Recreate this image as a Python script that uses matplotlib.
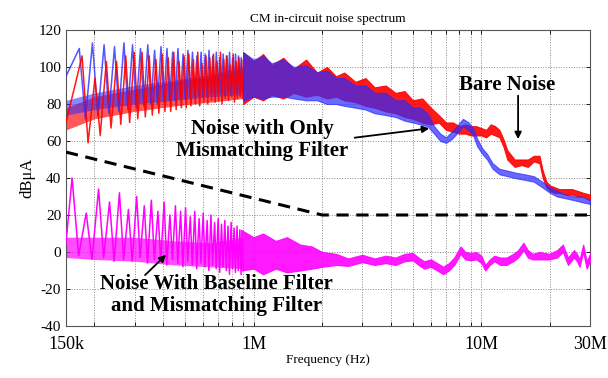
import numpy as np
import matplotlib
matplotlib.use("Agg")
import matplotlib.pyplot as plt
from matplotlib.ticker import FixedLocator, NullFormatter

# ---------------- data ----------------
harm_base = 24.5e3
harm_n = np.arange(7, 37)

# harmonic region (peaks / troughs), 150 kHz .. ~0.9 MHz
red_start = 70
red_pk = [106, 94, 103, 103, 106, 108, 108, 106, 104, 107, 105, 108, 103, 106, 107,
          104, 108, 102, 106, 105, 107, 103, 108, 104, 106, 101, 107, 103, 105, 104]
red_tr = [59, 63, 67, 69, 70, 72, 73, 74, 75, 76, 76, 77, 78, 78, 79,
          80, 79, 81, 80, 82, 81, 82, 80, 83, 82, 84, 81, 83, 84, 83]

blue_start = 95
blue_pk = [110, 113, 112, 111, 113, 112, 110, 112, 109, 111, 110, 108, 110, 107, 109,
           108, 106, 108, 107, 109, 106, 108, 105, 107, 106, 108, 105, 107, 106, 105]
blue_tr = [72, 74, 75, 76, 77, 78, 79, 80, 80, 81, 82, 82, 83, 83, 84,
           84, 85, 84, 85, 86, 85, 86, 86, 85, 87, 86, 87, 86, 87, 87]

mag_start = 5
mag_pk = [40, 21, 34, 27, 32, 23, 30, 25, 28, 22, 27, 20, 25, 22, 24,
          19, 22, 18, 21, 17, 20, 16, 18, 15, 17, 14, 16, 13, 14, 12]
mag_tr = [-2, -4, -3, -5, -4, -5, -3, -6, -4, -5, -7, -4, -6, -8, -5,
          -7, -9, -6, -8, -10, -7, -9, -11, -8, -10, -12, -9, -11, -10, -12]

# dense body under the harmonic spikes
body_f = [150e3, 200e3, 300e3, 450e3, 650e3, 900e3]
red_body_hi = [78, 84, 88, 92, 95, 98]
red_body_lo = [66, 72, 76, 79, 81, 83]
blue_body_hi = [82, 86, 90, 93, 96, 100]
blue_body_lo = [74, 77, 80, 82, 84, 85]
mag_body_hi = [8, 8, 8, 6, 5, 8]
mag_body_lo = [-3, -4, -5, -7, -8, -9]

# broadband region (upper / lower envelope), ~0.9 MHz .. 30 MHz  (MHz)
red_f = [0.9, 1.0, 1.1, 1.2, 1.35, 1.5, 1.7, 1.9, 2.1, 2.3, 2.5, 2.8, 3.1, 3.4, 3.8,
         4.2, 4.6, 5.0, 5.5, 6.0, 6.5, 7.0, 7.5, 8.0, 8.5, 9.0, 9.5, 10, 10.5, 11,
         11.5, 12, 12.5, 13, 14, 15, 16, 17, 18, 18.6, 19.3, 20, 21, 22, 23.5, 25,
         26.5, 28, 30]
red_hi = [108, 103, 107, 101, 105, 99, 104, 97, 100, 95, 97, 92, 94, 89, 90,
          86, 87, 82, 83, 78, 74, 70, 70, 68, 69, 68, 68, 67, 66, 69,
          68, 66, 61, 55, 50, 50, 50, 52, 52, 44, 38, 36, 35, 34, 34, 34,
          33, 32, 31]
red_lo = [80, 84, 82, 85, 83, 86, 84, 85, 83, 84, 82, 81, 79, 78, 76,
          75, 73, 72, 70, 69, 70, 66, 65, 64, 64, 63, 63, 63, 62, 64,
          63, 62, 57, 50, 46, 47, 46, 49, 48, 40, 35, 33, 32, 32, 31, 31,
          30, 30, 28]

blue_f = [0.9, 1.0, 1.1, 1.2, 1.35, 1.5, 1.7, 1.9, 2.1, 2.3, 2.5, 2.8, 3.1, 3.4, 3.8,
          4.2, 4.6, 5.0, 5.4, 5.8, 6.2, 6.6, 7.0, 7.4, 7.8, 8.3, 8.8, 9.2, 9.6, 10.1,
          10.6, 11.2, 12, 13, 14, 15.5, 17, 18.5, 20, 21.5, 23.5, 25.5, 27.5, 30]
blue_hi = [108, 104, 106, 102, 104, 100, 101, 97, 98, 94, 94, 90, 90, 86, 86,
           82, 82, 78, 78, 75, 68, 64, 62, 65, 68, 72, 70, 67, 61, 56,
           53, 48, 45, 44, 43, 42, 41, 38, 35, 33, 31, 30, 30, 28]
blue_lo = [82, 84, 83, 84, 84, 83, 82, 82, 80, 80, 79, 78, 77, 75, 74,
           73, 71, 70, 69, 68, 64, 60, 59, 61, 64, 68, 66, 63, 57, 53,
           50, 45, 42, 41, 40, 39, 38, 35, 32, 30, 29, 28, 27, 26]

mag_f = [0.88, 1.0, 1.1, 1.25, 1.4, 1.6, 1.8, 2.0, 2.3, 2.6, 3.0, 3.4, 3.8, 4.2, 4.6,
         5.0, 5.3, 5.6, 6.0, 6.4, 6.8, 7.2, 7.6, 8.1, 8.5, 9.0, 9.5, 10.0, 10.4, 10.9,
         11.4, 12.1, 12.9, 13.8, 14.5, 15.3, 16.0, 16.8, 18, 19.9, 21.5, 22.8, 24,
         25.5, 26.3, 27, 28, 29, 30]
mag_hi = [12, 8, 10, 6, 8, 4, 3, 0, -1, -3.5, -1.5, -3.5, -2, -3, -1,
          -0.5, -3, -5, -4, -6, -8, -6, -3, 3, 0, -0.5, 0, -2, -7, -4,
          -2, -3, -3, -1, 1, 5, 1, -1, 0, -1, 1, 4, -3,
          1, -1, -4, 4, -5, -1]
mag_lo = [-10, -9, -12, -9, -11, -10, -9, -8, -7, -7.5, -5.5, -7, -6, -7, -5,
          -4.5, -7, -9, -8, -10, -12, -10, -7, -1, -4, -4.5, -4, -6, -10, -7,
          -5, -7, -7, -5, -3, 1, -3, -4, -4, -4, -3, 0, -7,
          -3, -5, -8, 0, -9, -5]

# limit line
lim_f = [150e3, 2e6, 30e6]
lim_v = [54, 20, 20]

xtick_vals = [150e3, 1e6, 10e6, 30e6]
xtick_labels = ["150k", "1M", "10M", "30M"]

# ---------------- plot ----------------
plt.rcParams['font.family'] = ['Liberation Serif', 'DejaVu Serif']
plt.rcParams['axes.unicode_minus'] = False

fig = plt.figure(figsize=(6.08, 3.78), dpi=100)
ax = fig.add_axes([66/608, 52/378, 524/608, 296/378])

RED = "#ff0000"
BLUE = "#2a2aff"
MAG = "#ff00ff"


def spikes(fh, start, pk, tr):
    fx = [150e3]
    vy = [start]
    for f, p, t in zip(fh, pk, tr):
        fx += [f, f + 11e3]
        vy += [p, t]
    return fx, vy


ax.fill_between(body_f, red_body_lo, red_body_hi, color=RED, lw=0, alpha=0.65, zorder=2)
ax.fill_between(body_f, blue_body_lo, blue_body_hi, color=BLUE, lw=0, alpha=0.55, zorder=2)
ax.fill_between(body_f, mag_body_lo, mag_body_hi, color=MAG, lw=0, alpha=0.7, zorder=2)

fb = harm_n * harm_base
x, y = spikes(fb, blue_start, blue_pk, blue_tr)
ax.plot(x, y, color=BLUE, lw=1.1, alpha=0.8, zorder=3)
x, y = spikes(fb + 5e3, red_start, red_pk, red_tr)
ax.plot(x, y, color=RED, lw=1.1, alpha=0.9, zorder=3)
x, y = spikes(fb - 12e3, mag_start, mag_pk, mag_tr)
ax.plot(x, y, color=MAG, lw=1.1, zorder=3)

rf = np.array(red_f) * 1e6
bf = np.array(blue_f) * 1e6
mf = np.array(mag_f) * 1e6
ax.fill_between(rf, red_lo, red_hi, color=RED, lw=0.8, alpha=0.9, zorder=3)
ax.fill_between(bf, blue_lo, blue_hi, color=BLUE, lw=0.8, alpha=0.7, zorder=4)
ax.fill_between(mf, mag_lo, mag_hi, color=MAG, lw=0.8, alpha=0.9, zorder=3)

ax.plot(lim_f, lim_v, color="black", lw=2.2, ls=(0, (4, 2.5)), zorder=5)

ax.set_xscale("log")
ax.set_xlim(150e3, 30e6)
ax.set_ylim(-40, 120)
ax.set_yticks(np.arange(-40, 121, 20))
ax.xaxis.set_major_locator(FixedLocator(xtick_vals))
ax.set_xticklabels(xtick_labels)
minors = [m * d for d in (1e5, 1e6, 1e7) for m in range(2, 10) if 150e3 < m * d < 30e6]
ax.xaxis.set_minor_locator(FixedLocator(minors))
ax.xaxis.set_minor_formatter(NullFormatter())
ax.grid(True, which="both", axis="x", color="#888888", ls=":", lw=0.7)
ax.grid(True, which="major", axis="y", color="#888888", ls=":", lw=0.7)
ax.tick_params(which="both", direction="in", top=True, right=True, length=3, width=0.6)
ax.tick_params(axis="x", labelsize=13, pad=7)
ax.tick_params(axis="y", labelsize=11)
for s in ax.spines.values():
    s.set_linewidth(0.8)
    s.set_color("#555555")

ax.set_title("CM in-circuit noise spectrum", fontsize=9.5, pad=6)
ax.set_xlabel("Frequency (Hz)", fontsize=9.5, labelpad=1)
ax.set_ylabel("dBμA", fontsize=12, labelpad=2)

bold = dict(fontsize=15, fontweight="bold", ha="center", va="center", zorder=6)
ax.text(13e6, 90.5, "Bare Noise", **bold)
ax.annotate("", xy=(14.5e6, 59.5), xytext=(14.5e6, 86),
            arrowprops=dict(arrowstyle="-|>", color="black", lw=1.3, mutation_scale=10))
ax.text(1.09e6, 60.5, "Noise with Only\nMismatching Filter", linespacing=1.15, **bold)
ax.annotate("", xy=(6.07e6, 67), xytext=(2.7e6, 61.6),
            arrowprops=dict(arrowstyle="-|>", color="black", lw=1.3, mutation_scale=10))
ax.text(690e3, -23.2, "Noise With Baseline Filter\nand Mismatching Filter", linespacing=1.15, **bold)
ax.annotate("", xy=(421e3, -0.5), xytext=(327e3, -13.5),
            arrowprops=dict(arrowstyle="-|>", color="black", lw=1.3, mutation_scale=10))

fig.savefig("out.png", dpi=100)
